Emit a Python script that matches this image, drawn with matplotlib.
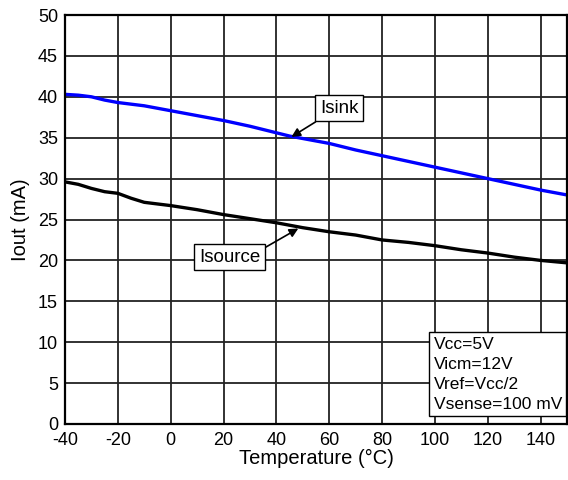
import matplotlib
matplotlib.use("Agg")
import matplotlib.pyplot as plt

plt.rcParams['font.family'] = ['Liberation Sans', 'DejaVu Sans']
plt.rcParams['axes.unicode_minus'] = False

temp_sink = [-40, -35, -30, -25, -20, -10, 0, 10, 20, 30, 40, 45, 50, 60, 70, 80, 90, 100, 110, 120, 130, 140, 150]
isink = [40.3, 40.2, 40.0, 39.6, 39.3, 38.9, 38.3, 37.7, 37.1, 36.4, 35.6, 35.2, 34.9, 34.3, 33.5, 32.8, 32.1, 31.4, 30.7, 30.0, 29.3, 28.6, 28.0]

temp_src = [-40, -35, -30, -25, -20, -15, -10, -5, 0, 10, 20, 30, 40, 50, 60, 70, 80, 90, 100, 110, 120, 130, 140, 150]
isource = [29.6, 29.3, 28.8, 28.4, 28.2, 27.6, 27.1, 26.9, 26.7, 26.2, 25.6, 25.1, 24.6, 24.0, 23.5, 23.1, 22.5, 22.2, 21.8, 21.3, 20.9, 20.4, 20.0, 19.7]

xticks = [-40, -20, 0, 20, 40, 60, 80, 100, 120, 140]
yticks = [0, 5, 10, 15, 20, 25, 30, 35, 40, 45, 50]
conditions = ["Vcc=5V", "Vicm=12V", "Vref=Vcc/2", "Vsense=100 mV"]

fig = plt.figure(figsize=(5.68, 4.8), dpi=100)
ax = fig.add_axes([65/568, 56/480, 502/568, 409/480])

ax.set_xlim(-40, 150)
ax.set_ylim(0, 50)
ax.set_xticks(xticks)
ax.set_yticks(yticks)
ax.tick_params(length=0, labelsize=13)
ax.tick_params(axis='x', pad=6)
ax.tick_params(axis='y', pad=5)
ax.grid(True, color='#222222', lw=1.3)
ax.set_axisbelow(True)
for s in ax.spines.values():
    s.set_linewidth(1.6)
    s.set_color('black')

ax.plot(temp_sink, isink, color='#0000ff', lw=2.4, solid_capstyle='butt')
ax.plot(temp_src, isource, color='black', lw=2.4, solid_capstyle='butt')

ax.set_xlabel("Temperature (°C)", fontsize=14.5, labelpad=0)
ax.set_ylabel("Iout (mA)", fontsize=14.5, labelpad=6)

box = dict(boxstyle='square,pad=0.25', fc='white', ec='black', lw=1.0)
ax.annotate("Isink", xy=(45.7, 35.1), xytext=(63.8, 38.6), fontsize=13.5,
            ha='center', va='center', bbox=box,
            arrowprops=dict(arrowstyle='-|>', color='black', lw=1.2, mutation_scale=13,
                            shrinkA=0, shrinkB=0, relpos=(0.1, 0.0)))
ax.annotate("Isource", xy=(48.3, 23.9), xytext=(22.3, 20.4), fontsize=13.5,
            ha='center', va='center', bbox=box,
            arrowprops=dict(arrowstyle='-|>', color='black', lw=1.2, mutation_scale=13,
                            shrinkA=0, shrinkB=0, relpos=(1.0, 0.9)))

ax.text(0.990, 0.030, "\n".join(conditions), transform=ax.transAxes, fontsize=12.5,
        ha='right', va='bottom', linespacing=1.42, multialignment='left',
        bbox=dict(boxstyle='square,pad=0.24', fc='white', ec='black', lw=1.0))

fig.savefig("out.png", dpi=100)
